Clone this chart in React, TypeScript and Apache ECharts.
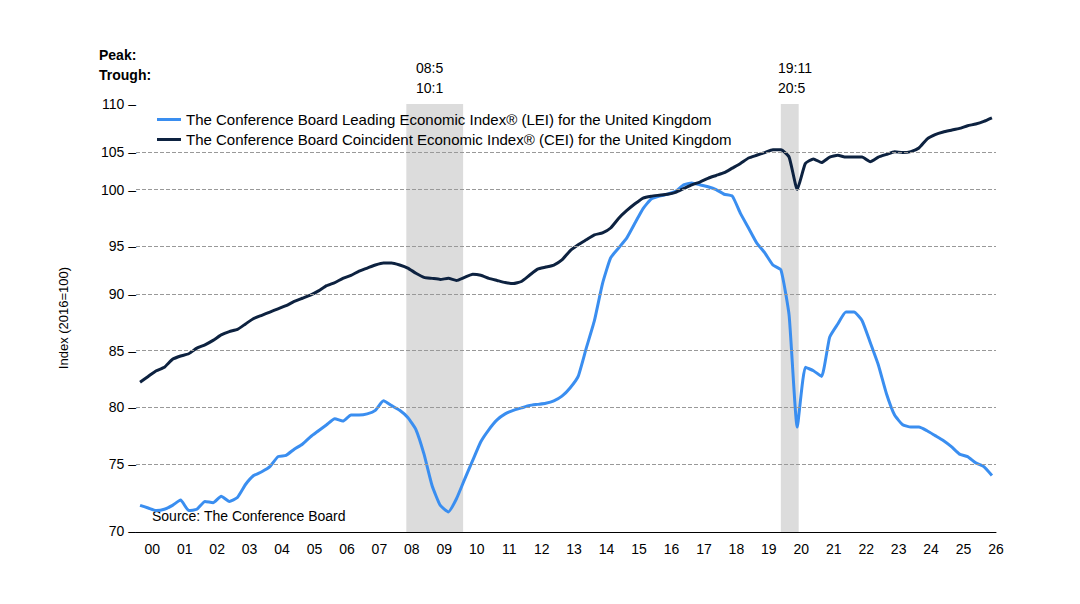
import { useRef, useEffect } from "react"
import * as echarts from "echarts"

const START_YEAR = 2000
// quarterly values, 2000 Q1 onward
const leiValues = [
  72.0, 71.8, 71.6, 71.7, 72.0, 72.4, 71.6, 71.7, 72.3, 72.2, 72.7, 72.3,
  72.6, 73.6, 74.3, 74.6, 75.0, 75.8, 75.9, 76.4, 76.8, 77.4, 77.9, 78.4,
  78.9, 78.7, 79.2, 79.2, 79.3, 79.6, 80.4, 80.0, 79.6, 79.0, 78.0, 76.0,
  73.5, 72.0, 71.5, 72.5, 74.0, 75.5, 77.0, 78.0, 78.8, 79.3, 79.6, 79.8,
  80.0, 80.1, 80.2, 80.4, 80.8, 81.5, 82.5, 85.0, 87.5, 91.0, 93.5, 94.5,
  95.5, 97.0, 98.5, 99.5, 99.8, 100.0, 100.3, 101.0, 101.2, 101.0, 100.8, 100.5,
  100.0, 99.8, 98.0, 96.5, 95.0, 94.0, 92.8, 92.3, 88.0, 78.2, 83.3, 83.0,
  82.5, 86.0, 87.2, 88.3, 88.3, 87.5, 85.5, 83.5, 81.0, 79.2, 78.4, 78.2,
  78.2, 77.9, 77.5, 77.1, 76.6, 76.0, 75.8, 75.3, 75.0, 74.3,
]
const ceiValues = [
  82.0, 82.5, 83.0, 83.3, 84.0, 84.3, 84.5, 85.0, 85.3, 85.7, 86.2, 86.5,
  86.7, 87.2, 87.7, 88.0, 88.3, 88.6, 88.9, 89.3, 89.6, 89.9, 90.3, 90.8,
  91.1, 91.5, 91.8, 92.2, 92.5, 92.8, 93.0, 93.0, 92.8, 92.5, 92.0, 91.6,
  91.5, 91.4, 91.5, 91.3, 91.6, 91.9, 91.8, 91.5, 91.3, 91.1, 91.0, 91.2,
  91.8, 92.4, 92.6, 92.8, 93.3, 94.2, 94.8, 95.3, 95.8, 96.0, 96.5, 97.5,
  98.3, 99.0, 99.6, 99.8, 99.9, 100.0, 100.2, 100.6, 101.0, 101.3, 101.7, 102.0,
  102.3, 102.8, 103.3, 103.9, 104.2, 104.5, 104.8, 104.8, 104.0, 100.5, 103.3, 103.8,
  103.4, 104.0, 104.2, 104.0, 104.0, 104.0, 103.5, 104.0, 104.3, 104.6, 104.5, 104.6,
  105.0, 106.0, 106.5, 106.8, 107.0, 107.2, 107.5, 107.7, 108.0, 108.4,
]
const yTicks = [70, 75, 80, 85, 90, 95, 100, 105, 110]
const recessions = [
  { start: 2008.33, end: 2010.08, peak: "08:5", trough: "10:1" },
  { start: 2019.87, end: 2020.42, peak: "19:11", trough: "20:5" },
]

const toPoints = (vals: number[]) =>
  vals.map((v, i) => [START_YEAR + i * 0.25 + 0.125, Math.log(v)])

const font = "Liberation Sans, Arial, sans-serif"

export default function App() {
  const ref = useRef<HTMLDivElement>(null)

  useEffect(() => {
    if (!ref.current) return
    const chart = echarts.init(ref.current, null, { renderer: "svg" })
    chart.setOption({
      animation: false,
      textStyle: { fontFamily: font },
      grid: { left: 128, right: 76, top: 96, bottom: 64 },
      legend: {
        orient: "vertical",
        left: 144,
        top: 99,
        itemWidth: 24,
        itemHeight: 3,
        itemGap: 5,
        icon: "rect",
        textStyle: { fontSize: 15, color: "#000", fontFamily: font },
      },
      xAxis: [
        {
          type: "value",
          min: 2000,
          max: 2026.5,
          axisLine: { show: true, lineStyle: { color: "#000" } },
          axisTick: { show: false },
          axisLabel: { show: false },
          splitLine: { show: false },
        },
        {
          type: "value",
          min: 1999.5,
          max: 2026,
          interval: 0.5,
          position: "bottom",
          axisLine: { show: false },
          axisTick: { show: false },
          splitLine: { show: false },
          axisLabel: {
            fontSize: 14,
            color: "#000",
            margin: 10,
            showMinLabel: true,
            showMaxLabel: true,
            formatter: (v: number) =>
              Number.isInteger(v) && v >= 2000 ? String(v % 100).padStart(2, "0") : "",
          },
        },
      ],
      yAxis: {
        type: "value",
        min: Math.log(70) - 1e-6,
        max: Math.log(110) + 1e-6,
        axisLine: { show: false },
        axisTick: { show: false },
        axisLabel: { show: false },
        splitLine: { show: false },
        name: "Index (2016=100)",
        nameLocation: "middle",
        nameGap: 66,
        nameTextStyle: { fontSize: 13, color: "#000" },
      },
      graphic: [
        { type: "text", left: 91, top: 40, style: { text: "Peak:", font: `bold 14px ${font}`, fill: "#000" } },
        { type: "text", left: 91, top: 60, style: { text: "Trough:", font: `bold 14px ${font}`, fill: "#000" } },
        { type: "text", left: 408, top: 50, style: { text: "08:5\n10:1", font: `14px ${font}`, fill: "#000", lineHeight: 20 } },
        { type: "text", left: 770, top: 50, style: { text: "19:11\n20:5", font: `14px ${font}`, fill: "#000", lineHeight: 20 } },
        { type: "text", left: 144, top: 501, style: { text: "Source: The Conference Board", font: `14px ${font}`, fill: "#000" } },
      ],
      series: [
        {
          name: "The Conference Board Leading Economic Index® (LEI) for the United Kingdom",
          type: "line",
          data: toPoints(leiValues),
          showSymbol: false,
          smooth: 0.15,
          lineStyle: { color: "#3a8ef0", width: 3 },
          itemStyle: { color: "#3a8ef0" },
          z: 3,
          markArea: {
            silent: true,
            itemStyle: { color: "#dcdcdc" },
            data: recessions.map((r) => [{ xAxis: r.start }, { xAxis: r.end }]),
          },
        },
        {
          name: "The Conference Board Coincident Economic Index® (CEI) for the United Kingdom",
          type: "line",
          data: toPoints(ceiValues),
          showSymbol: false,
          smooth: 0.15,
          lineStyle: { color: "#0d2240", width: 3 },
          itemStyle: { color: "#0d2240" },
          z: 4,
          markLine: {
            silent: true,
            symbol: "none",
            animation: false,
            data: yTicks.map((t) => ({
              yAxis: Math.log(t),
              lineStyle: {
                color: t === 70 || t === 110 ? "rgba(0,0,0,0)" : "#999",
                type: "dashed",
                width: 1,
              },
              label: {
                show: true,
                position: "start",
                formatter: `${t} –`,
                fontSize: 14,
                color: "#000",
                distance: 0,
              },
            })),
          },
        },
      ],
    })
    return () => chart.dispose()
  }, [])

  return <div ref={ref} style={{ width: 1064, height: 588 }} />
}
